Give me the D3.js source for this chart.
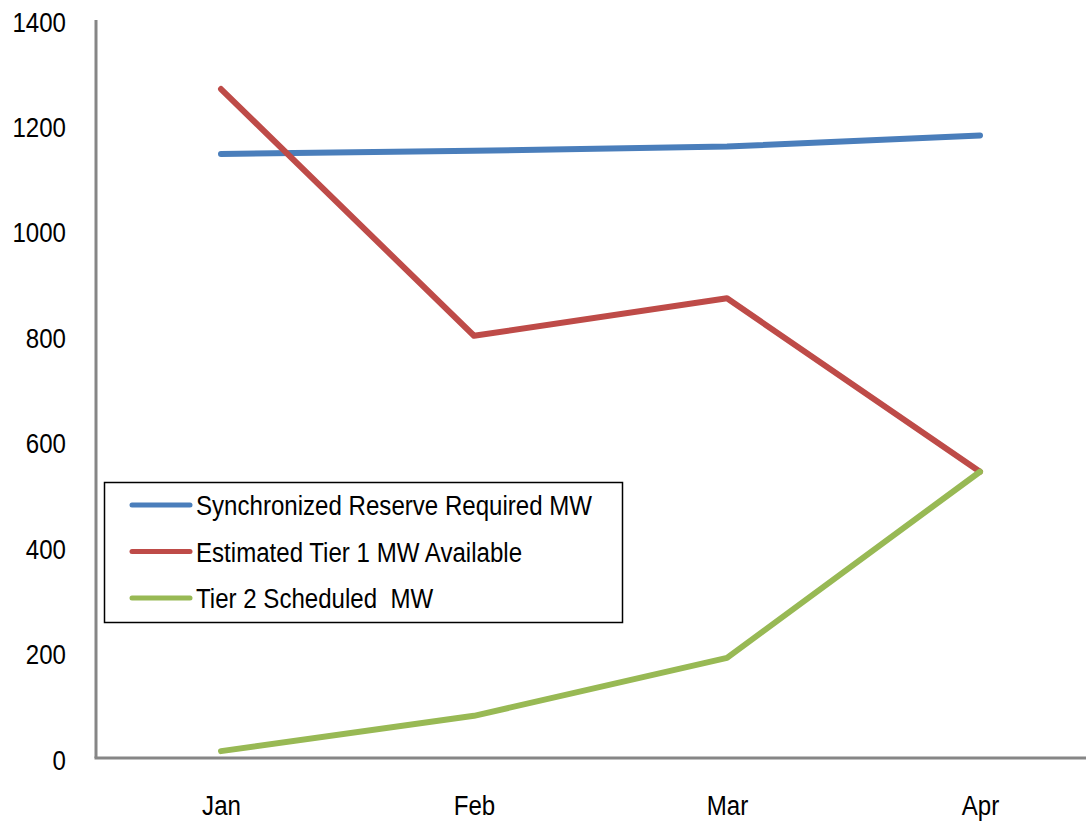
<!DOCTYPE html>
<html>
<head>
<meta charset="utf-8">
<script src="https://cdn.jsdelivr.net/npm/d3@7"></script>
<style>
  html, body { margin: 0; padding: 0; background: #fff; }
  svg { display: block; font-family: "Liberation Sans", Arial, sans-serif; }
</style>
</head>
<body>
<div id="chart"></div>
<script>
// Data
var months = ['Jan', 'Feb', 'Mar', 'Apr'];
var syncReserveRequired = [1146, 1152, 1160, 1181];
var tier1Available = [1269, 801, 872, 543];
var tier2Scheduled = [13, 80, 190, 543];
var yTicks = [0, 200, 400, 600, 800, 1000, 1200, 1400];

var seriesNames = ['Synchronized Reserve Required MW', 'Estimated Tier 1 MW Available', 'Tier 2 Scheduled  MW'];
var seriesColors = ['#4a7ebb', '#be4b48', '#98b954'];
var seriesValues = [syncReserveRequired, tier1Available, tier2Scheduled];

var width = 1086;
var height = 821;
var axisLeft = 96;
var axisTop = 20;
var axisBottom = 758;
var squeeze = 0.86; // the reference font is a narrow face

var svg = d3.select('#chart').append('svg')
    .attr('width', width)
    .attr('height', height);

var xScale = d3.scalePoint()
    .domain(months)
    .range([221, 980]);

var yScale = d3.scaleLinear()
    .domain([0, 1400])
    .range([axisBottom, axisTop]);

// Y axis: labels only, no tick marks
var yAxis = svg.append('g')
    .attr('transform', 'translate(' + axisLeft + ',0)')
    .call(d3.axisLeft(yScale).tickValues(yTicks).tickSize(0).tickFormat(d3.format('d')));
yAxis.select('.domain').remove();
yAxis.selectAll('text')
    .attr('x', 0)
    .attr('transform', 'translate(-30,1) scale(' + squeeze + ',1)')
    .attr('font-size', '28px')
    .attr('fill', '#000')
    .attr('dy', '0.36em')
    .style('font-family', 'inherit');

// X axis labels
var xAxis = svg.append('g')
    .attr('transform', 'translate(0,' + axisBottom + ')')
    .call(d3.axisBottom(xScale).tickSize(0));
xAxis.select('.domain').remove();
xAxis.selectAll('text')
    .attr('y', 0)
    .attr('dy', 0)
    .attr('transform', 'translate(0,57) scale(' + squeeze + ',1)')
    .attr('font-size', '28px')
    .attr('fill', '#000')
    .style('font-family', 'inherit');

// Axis lines
svg.append('line')
    .attr('x1', axisLeft).attr('x2', axisLeft)
    .attr('y1', axisTop).attr('y2', axisBottom)
    .attr('stroke', '#868686')
    .attr('stroke-width', 3);
svg.append('line')
    .attr('x1', axisLeft - 1.5).attr('x2', width)
    .attr('y1', axisBottom).attr('y2', axisBottom)
    .attr('stroke', '#868686')
    .attr('stroke-width', 3);

// Series lines
var line = d3.line()
    .x(function(d, i) { return xScale(months[i]); })
    .y(function(d) { return yScale(d); });

seriesValues.forEach(function(values, i) {
    svg.append('path')
        .datum(values)
        .attr('d', line)
        .attr('fill', 'none')
        .attr('stroke', seriesColors[i])
        .attr('stroke-width', 6)
        .attr('stroke-linecap', 'round')
        .attr('stroke-linejoin', 'round');
});

// Legend
var legend = svg.append('g');
legend.append('rect')
    .attr('x', 104.5).attr('y', 482.5)
    .attr('width', 518).attr('height', 140)
    .attr('fill', '#fff')
    .attr('stroke', '#000')
    .attr('stroke-width', 1.5);

seriesNames.forEach(function(name, i) {
    var y = 505 + i * 46.5;
    legend.append('line')
        .attr('x1', 132).attr('x2', 190)
        .attr('y1', y).attr('y2', y)
        .attr('stroke', seriesColors[i])
        .attr('stroke-width', 5)
        .attr('stroke-linecap', 'round');
    legend.append('text')
        .attr('transform', 'translate(196,' + y + ') scale(' + squeeze + ',1)')
        .attr('dy', '0.36em')
        .attr('font-size', '28px')
        .attr('fill', '#000')
        .style('white-space', 'pre')
        .text(name);
});
</script>
</body>
</html>
